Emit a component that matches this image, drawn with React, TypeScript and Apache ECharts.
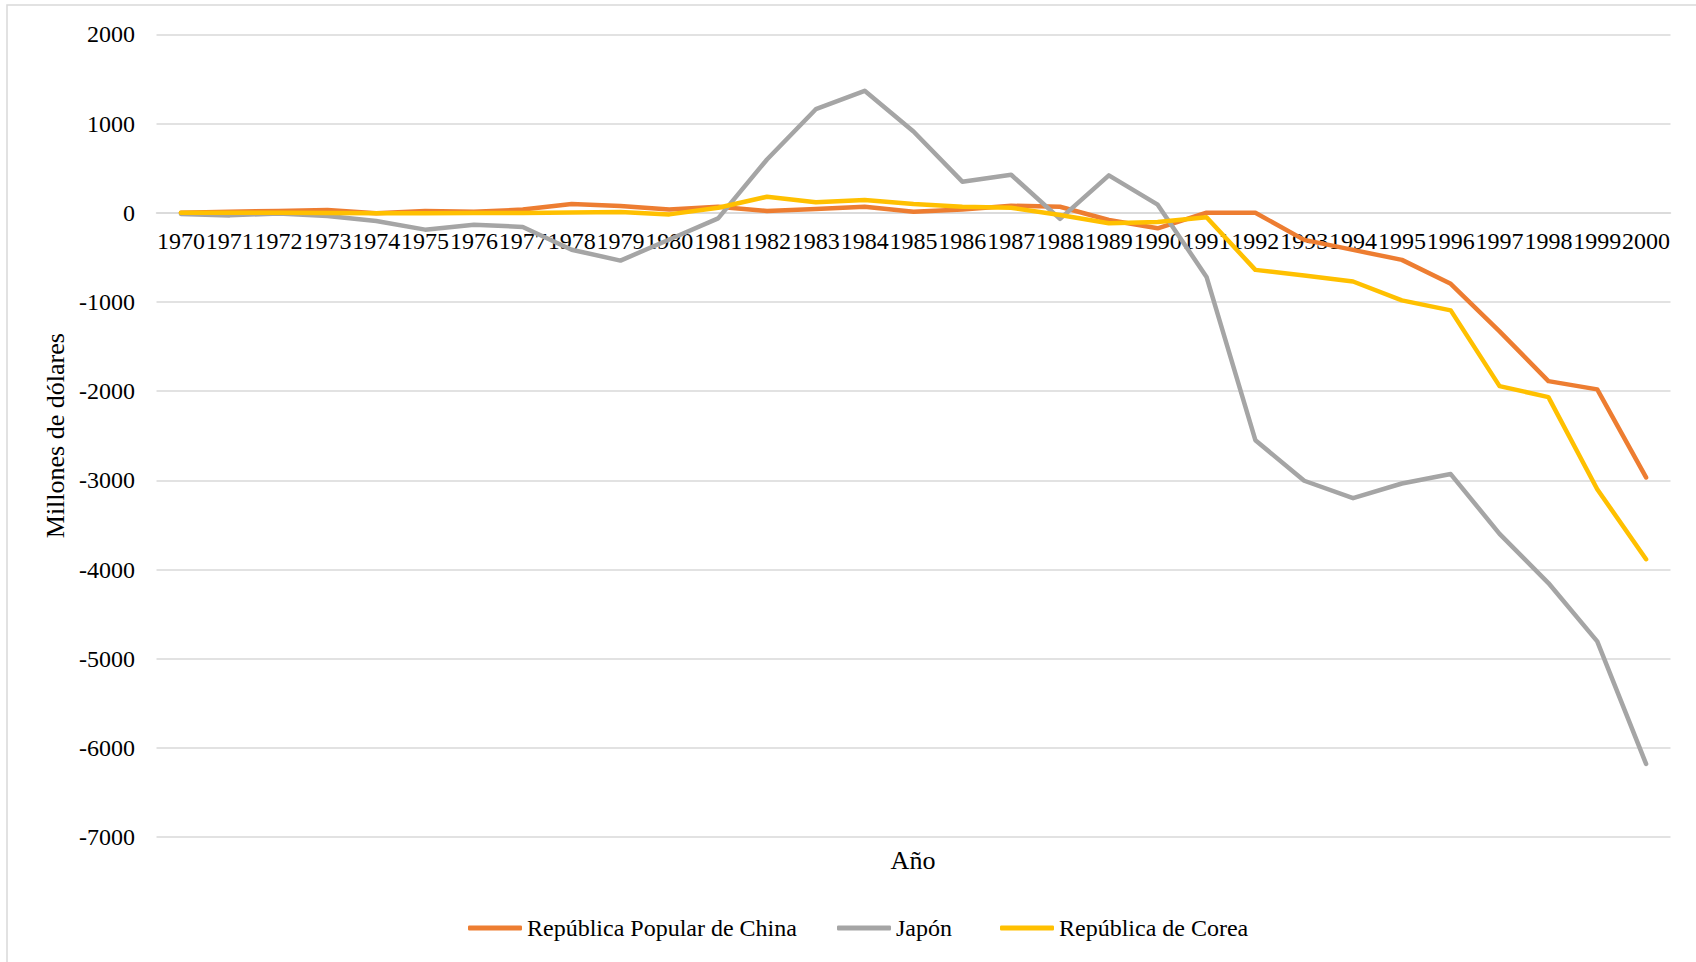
import React, { useEffect, useRef } from "react";
import * as echarts from "echarts";

const years = [
  "1970", "1971", "1972", "1973", "1974", "1975", "1976", "1977", "1978", "1979",
  "1980", "1981", "1982", "1983", "1984", "1985", "1986", "1987", "1988", "1989",
  "1990", "1991", "1992", "1993", "1994", "1995", "1996", "1997", "1998", "1999", "2000",
];

const seriesNames = ["República Popular de China", "Japón", "República de Corea"];

const china = [
  0, 10, 20, 30, -5, 20, 10, 35, 97, 75,
  37, 67, 19, 41, 67, 11, 37, 78, 67, -82,
  -175, 0, 0, -305, -417, -529, -797, -1330, -1888, -1981, -2968,
];

const japan = [
  -15, -30, -8, -37, -93, -190, -134, -160, -415, -537,
  -300, -63, 597, 1160, 1366, 910, 348, 425, -70, 418,
  90, -720, -2550, -3005, -3200, -3036, -2930, -3600, -4152, -4806, -6180,
];

const korea = [
  0, 0, 0, -2, -5, -5, -3, -3, 2, 7,
  -19, 56, 179, 116, 142, 97, 67, 56, -26, -119,
  -104, -52, -641, -704, -771, -983, -1095, -1944, -2067, -3100, -3885,
];

const yMin = -7000;
const yMax = 2000;
const yStep = 1000;

const colors = ["#ED7D31", "#A5A5A5", "#FFC000"];
const FONT = "'Liberation Serif', 'Times New Roman', serif";

export default function App() {
  const ref = useRef<HTMLDivElement>(null);

  useEffect(() => {
    if (!ref.current) return;
    const chart = echarts.init(ref.current, undefined, { renderer: "svg" });
    const dataSets = [china, japan, korea];
    const legendLefts = [468, 837, 1000];

    const gridTop = 34.3;
    const gridBottom = 124.9;
    const plotH = 962 - gridTop - gridBottom;
    // distance from plot bottom to the zero line
    const zeroOffset = (plotH * (0 - yMin)) / (yMax - yMin);

    chart.setOption({
      animation: false,
      backgroundColor: "#ffffff",
      textStyle: { fontFamily: FONT, color: "#000" },
      grid: { left: 156.5, right: 25.5, top: gridTop, bottom: gridBottom, containLabel: false },
      xAxis: {
        type: "category",
        data: years,
        boundaryGap: true,
        position: "bottom",
        offset: -zeroOffset,
        axisLine: { show: true, onZero: false, lineStyle: { color: "#d9d9d9", width: 1.5 } },
        axisTick: { show: false },
        axisLabel: {
          interval: 0,
          fontSize: 24,
          fontFamily: FONT,
          color: "#000",
          margin: 16,
        },
        splitLine: { show: false },
      },
      yAxis: {
        type: "value",
        min: yMin,
        max: yMax,
        interval: yStep,
        name: "Millones de dólares",
        nameLocation: "middle",
        nameGap: 78,
        nameTextStyle: { fontSize: 26, fontFamily: FONT, color: "#000" },
        axisLine: { show: false },
        axisTick: { show: false },
        axisLabel: {
          fontSize: 24,
          fontFamily: FONT,
          color: "#000",
          margin: 21.5,
          formatter: (v: number) => String(v),
        },
        splitLine: { show: true, lineStyle: { color: "#d9d9d9", width: 1.5 } },
      },
      legend: seriesNames.map((n, i) => ({
        data: [n],
        left: legendLefts[i],
        top: 916,
        icon: "roundRect",
        itemWidth: 54,
        itemHeight: 5,
        itemGap: 5,
        textStyle: { fontSize: 24, fontFamily: FONT, color: "#000", padding: [0, 0, 0, 0] },
        padding: 0,
      })),
      graphic: [
        {
          type: "rect",
          shape: { x: 7, y: 5, width: 1720, height: 1000 },
          style: { fill: "none", stroke: "#d9d9d9", lineWidth: 1.5 },
          silent: true,
        },
        {
          type: "text",
          x: 913,
          y: 860,
          style: {
            text: "Año",
            fontSize: 26,
            fontFamily: FONT,
            fill: "#000",
            textAlign: "center",
            textVerticalAlign: "middle",
          },
        },
      ],
      series: seriesNames.map((n, i) => ({
        name: n,
        type: "line",
        data: dataSets[i],
        showSymbol: false,
        symbol: "none",
        lineStyle: { color: colors[i], width: 4.5, cap: "round", join: "round" },
        itemStyle: { color: colors[i] },
        z: 2 + i,
      })),
    });

    return () => chart.dispose();
  }, []);

  return (
    <div
      ref={ref}
      style={{ position: "absolute", left: 0, top: 0, width: 1696, height: 962 }}
    />
  );
}
